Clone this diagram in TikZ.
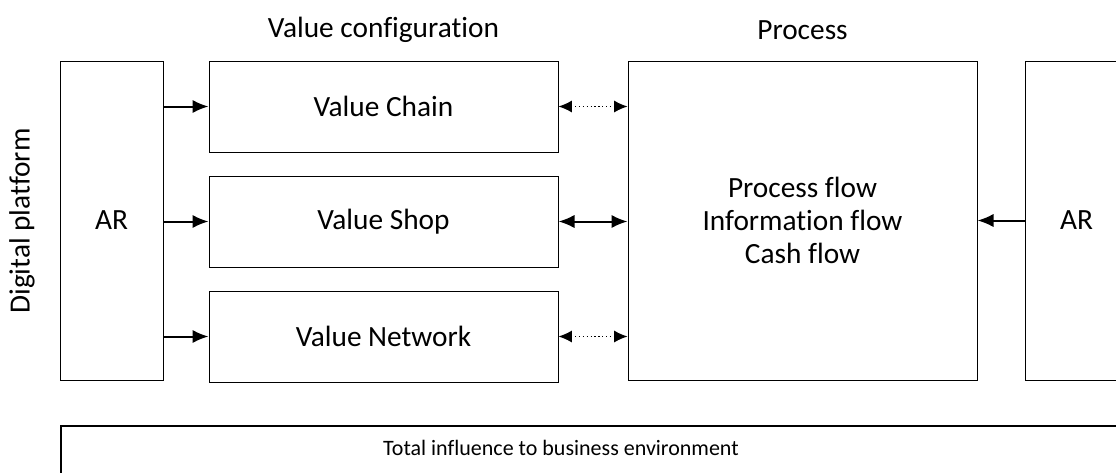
\documentclass[tikz,border=0pt]{standalone}
\usepackage{fontspec}
\setmainfont{Carlito}[Ligatures=CommonOff]
\usetikzlibrary{positioning,arrows.meta}

\begin{document}
\begin{tikzpicture}[
    x=0.75pt, y=-0.75pt,
    font=\fontsize{22}{26}\selectfont,
    block/.style={rectangle, draw, line width=0.75pt, minimum width=261.75pt, minimum height=68.25pt, inner sep=0pt},
    tall/.style={rectangle, draw, line width=0.75pt, minimum width=77.25pt, minimum height=239.25pt, inner sep=0pt},
    line/.style={draw, -{Latex[length=12pt,width=10pt]}, line width=1.5pt},
    both/.style={draw, {Latex[length=12pt,width=10pt]}-{Latex[length=12pt,width=10pt]}, line width=1.5pt},
    dots/.style={draw, {Latex[length=10pt,width=9pt]}-{Latex[length=10pt,width=9pt]}, line width=0.9pt, dotted}
]

\clip (0,0) rectangle (1116,472);
\useasboundingbox (0,0) rectangle (1116,472);

% Headings
\node (cfg_title) at (383.5,30) {Value configuration};
\node (proc_title) at (802.5,30) {Process};
\node[rotate=90] (platform) at (22,221) {Digital platform};

% AR on both sides
\node[tall] (ar_left) at (111.5,220.5) {AR};
\node[tall] (ar_right) at (1076.5,220.5) {AR};

% Value configuration blocks
\node[block] (chain) at (383.5,106.5) {Value Chain};
\node[block, below=23*0.75pt of chain] (shop) {Value Shop};
\node[block, below=23*0.75pt of shop] (network) {Value Network};

% Process block
\node[tall, minimum width=261.75pt, align=center, font=\fontsize{22}{24.75}\selectfont] (proc) at (802.5,220.5)
    {Process flow\\Information flow\\Cash flow};

% Arrows from AR into the value blocks
\draw[line] (ar_left.east |- chain) -- (chain.west);
\draw[line] (ar_left.east |- shop) -- (shop.west);
\draw[line] (ar_left.east |- network) -- (network.west);

% Links between value blocks and process
\draw[dots] (chain.east) -- (chain.east -| proc.west);
\draw[both] (shop.east) -- (shop.east -| proc.west);
\draw[dots] (network.east) -- (network.east -| proc.west);
\draw[line] (ar_right.west) -- (proc.east);

% Business environment
\node[draw, line width=1.5pt, anchor=north west, minimum width=825pt, minimum height=60pt] (envbox) at (60,425) {};
\node[font=\fontsize{16.5}{19}\selectfont] (env) at (561,448) {Total influence to business environment};

\end{tikzpicture}
\end{document}
